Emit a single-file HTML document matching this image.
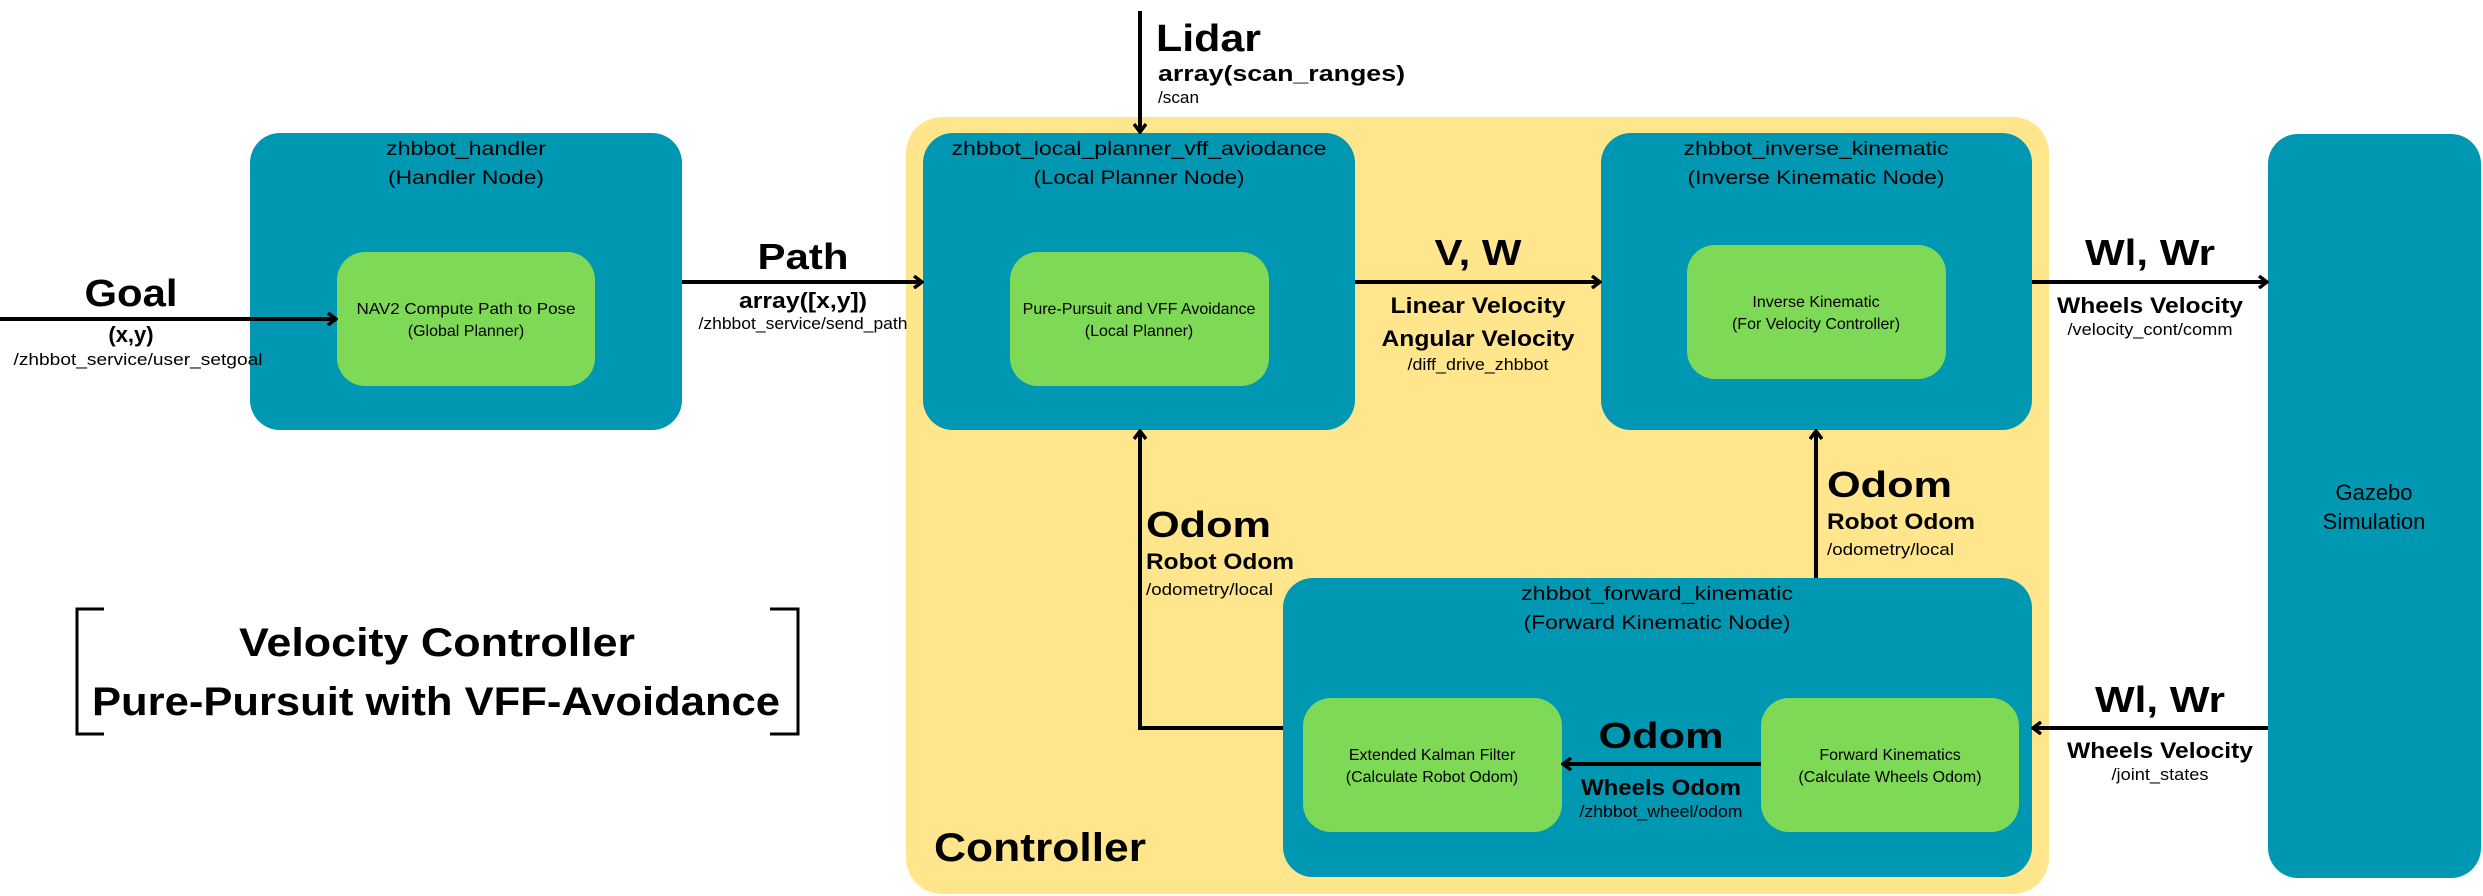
<!DOCTYPE html>
<html><head><meta charset="utf-8"><style>
html,body{margin:0;padding:0;background:#fff;}
svg{display:block;}
text{font-family:"Liberation Sans",sans-serif;fill:#000;}
.b{font-weight:bold;}
</style></head><body>
<svg width="2483" height="896" viewBox="0 0 2483 896" xmlns="http://www.w3.org/2000/svg">
<defs>
<marker id="ah" markerWidth="12" markerHeight="14" refX="9" refY="7" orient="auto" markerUnits="userSpaceOnUse">
<path d="M2,1 L10,7 L2,13" fill="none" stroke="#000" stroke-width="3.5"/>
</marker>
</defs>
<rect x="906" y="117" width="1143" height="777" rx="36" fill="#FFE68D"/>
<rect x="250" y="133" width="432" height="297" rx="30" fill="#0097B2"/>
<rect x="337" y="252" width="258" height="134" rx="28" fill="#7ED957"/>
<rect x="923" y="133" width="432" height="297" rx="30" fill="#0097B2"/>
<rect x="1010" y="252" width="259" height="134" rx="28" fill="#7ED957"/>
<rect x="1601" y="133" width="431" height="297" rx="30" fill="#0097B2"/>
<rect x="1687" y="245" width="259" height="134" rx="28" fill="#7ED957"/>
<rect x="2268" y="134" width="213" height="744" rx="30" fill="#0097B2"/>
<rect x="1283" y="578" width="749" height="299" rx="30" fill="#0097B2"/>
<rect x="1303" y="698" width="259" height="134" rx="28" fill="#7ED957"/>
<rect x="1761" y="698" width="258" height="134" rx="28" fill="#7ED957"/>

<g stroke="#000" stroke-width="4" fill="none">
<line x1="0" y1="319" x2="335" y2="319" marker-end="url(#ah)"/>
<line x1="682" y1="282" x2="921" y2="282" marker-end="url(#ah)"/>
<line x1="1140" y1="11" x2="1140" y2="131" marker-end="url(#ah)"/>
<line x1="1355" y1="282" x2="1599" y2="282" marker-end="url(#ah)"/>
<line x1="2032" y1="282" x2="2266" y2="282" marker-end="url(#ah)"/>
<line x1="1816" y1="578" x2="1816" y2="432" marker-end="url(#ah)"/>
<polyline points="1283,728 1140,728 1140,432" marker-end="url(#ah)"/>
<line x1="2268" y1="728" x2="2034" y2="728" marker-end="url(#ah)"/>
<line x1="1761" y1="764" x2="1564" y2="764" marker-end="url(#ah)"/>
</g>

<g stroke="#000" stroke-width="3" fill="none">
<polyline points="104,609 77,609 77,734 104,734"/>
<polyline points="770,609 798,609 798,734 770,734"/>
</g>

<g font-size="19" text-anchor="middle">
<text x="466" y="155" textLength="160" lengthAdjust="spacingAndGlyphs">zhbbot_handler</text>
<text x="466" y="184" textLength="156" lengthAdjust="spacingAndGlyphs">(Handler Node)</text>
<text x="1139" y="155" textLength="375" lengthAdjust="spacingAndGlyphs">zhbbot_local_planner_vff_aviodance</text>
<text x="1139" y="184" textLength="211" lengthAdjust="spacingAndGlyphs">(Local Planner Node)</text>
<text x="1816" y="155" textLength="265" lengthAdjust="spacingAndGlyphs">zhbbot_inverse_kinematic</text>
<text x="1816" y="184" textLength="257" lengthAdjust="spacingAndGlyphs">(Inverse Kinematic Node)</text>
<text x="1657" y="600" textLength="272" lengthAdjust="spacingAndGlyphs">zhbbot_forward_kinematic</text>
<text x="1657" y="629" textLength="267" lengthAdjust="spacingAndGlyphs">(Forward Kinematic Node)</text>
<text x="2374" y="500" font-size="22">Gazebo</text>
<text x="2374" y="529" font-size="22">Simulation</text>
</g>
<g font-size="16" text-anchor="middle">
<text x="466" y="314" textLength="219" lengthAdjust="spacingAndGlyphs">NAV2 Compute Path to Pose</text>
<text x="466" y="336">(Global Planner)</text>
<text x="1139" y="314">Pure-Pursuit and VFF Avoidance</text>
<text x="1139" y="336">(Local Planner)</text>
<text x="1816" y="307">Inverse Kinematic</text>
<text x="1816" y="329">(For Velocity Controller)</text>
<text x="1432" y="760">Extended Kalman Filter</text>
<text x="1432" y="782">(Calculate Robot Odom)</text>
<text x="1890" y="760">Forward Kinematics</text>
<text x="1890" y="782">(Calculate Wheels Odom)</text>
</g>

<g text-anchor="middle">
<text class="b" x="131" y="306" font-size="38" textLength="93" lengthAdjust="spacingAndGlyphs">Goal</text>
<text class="b" x="131" y="342" font-size="22">(x,y)</text>
<text x="138" y="365" font-size="17" textLength="249" lengthAdjust="spacingAndGlyphs">/zhbbot_service/user_setgoal</text>

<text class="b" x="803" y="269" font-size="36" textLength="91" lengthAdjust="spacingAndGlyphs">Path</text>
<text class="b" x="803" y="308" font-size="22" textLength="128" lengthAdjust="spacingAndGlyphs">array([x,y])</text>
<text x="803" y="329" font-size="17" textLength="209" lengthAdjust="spacingAndGlyphs">/zhbbot_service/send_path</text>

<text class="b" x="1478" y="265" font-size="36" textLength="87" lengthAdjust="spacingAndGlyphs">V, W</text>
<text class="b" x="1478" y="313" font-size="22" textLength="175" lengthAdjust="spacingAndGlyphs">Linear Velocity</text>
<text class="b" x="1478" y="346" font-size="22" textLength="193" lengthAdjust="spacingAndGlyphs">Angular Velocity</text>
<text x="1478" y="370" font-size="17" textLength="141" lengthAdjust="spacingAndGlyphs">/diff_drive_zhbbot</text>

<text class="b" x="2150" y="265" font-size="36" textLength="130" lengthAdjust="spacingAndGlyphs">Wl, Wr</text>
<text class="b" x="2150" y="313" font-size="22" textLength="186" lengthAdjust="spacingAndGlyphs">Wheels Velocity</text>
<text x="2150" y="335" font-size="17" textLength="165" lengthAdjust="spacingAndGlyphs">/velocity_cont/comm</text>

<text class="b" x="2160" y="712" font-size="36" textLength="130" lengthAdjust="spacingAndGlyphs">Wl, Wr</text>
<text class="b" x="2160" y="758" font-size="22" textLength="186" lengthAdjust="spacingAndGlyphs">Wheels Velocity</text>
<text x="2160" y="780" font-size="17" textLength="97" lengthAdjust="spacingAndGlyphs">/joint_states</text>

<text class="b" x="1661" y="748" font-size="36" textLength="125" lengthAdjust="spacingAndGlyphs">Odom</text>
<text class="b" x="1661" y="795" font-size="22" textLength="160" lengthAdjust="spacingAndGlyphs">Wheels Odom</text>
<text x="1661" y="817" font-size="17" textLength="163" lengthAdjust="spacingAndGlyphs">/zhbbot_wheel/odom</text>

<text class="b" x="437" y="656" font-size="40" textLength="396" lengthAdjust="spacingAndGlyphs">Velocity Controller</text>
<text class="b" x="436" y="715" font-size="40" textLength="688" lengthAdjust="spacingAndGlyphs">Pure-Pursuit with VFF-Avoidance</text>
</g>
<g>
<text class="b" x="1156" y="51" font-size="38" textLength="105" lengthAdjust="spacingAndGlyphs">Lidar</text>
<text class="b" x="1158" y="81" font-size="22" textLength="247" lengthAdjust="spacingAndGlyphs">array(scan_ranges)</text>
<text x="1158" y="103" font-size="17" textLength="41" lengthAdjust="spacingAndGlyphs">/scan</text>

<text class="b" x="1827" y="497" font-size="36" textLength="125" lengthAdjust="spacingAndGlyphs">Odom</text>
<text class="b" x="1827" y="529" font-size="22" textLength="148" lengthAdjust="spacingAndGlyphs">Robot Odom</text>
<text x="1827" y="555" font-size="17" textLength="127" lengthAdjust="spacingAndGlyphs">/odometry/local</text>

<text class="b" x="1146" y="537" font-size="36" textLength="125" lengthAdjust="spacingAndGlyphs">Odom</text>
<text class="b" x="1146" y="569" font-size="22" textLength="148" lengthAdjust="spacingAndGlyphs">Robot Odom</text>
<text x="1146" y="595" font-size="17" textLength="127" lengthAdjust="spacingAndGlyphs">/odometry/local</text>

<text class="b" x="934" y="861" font-size="40" textLength="212" lengthAdjust="spacingAndGlyphs">Controller</text>
</g>
</svg>
</body></html>
